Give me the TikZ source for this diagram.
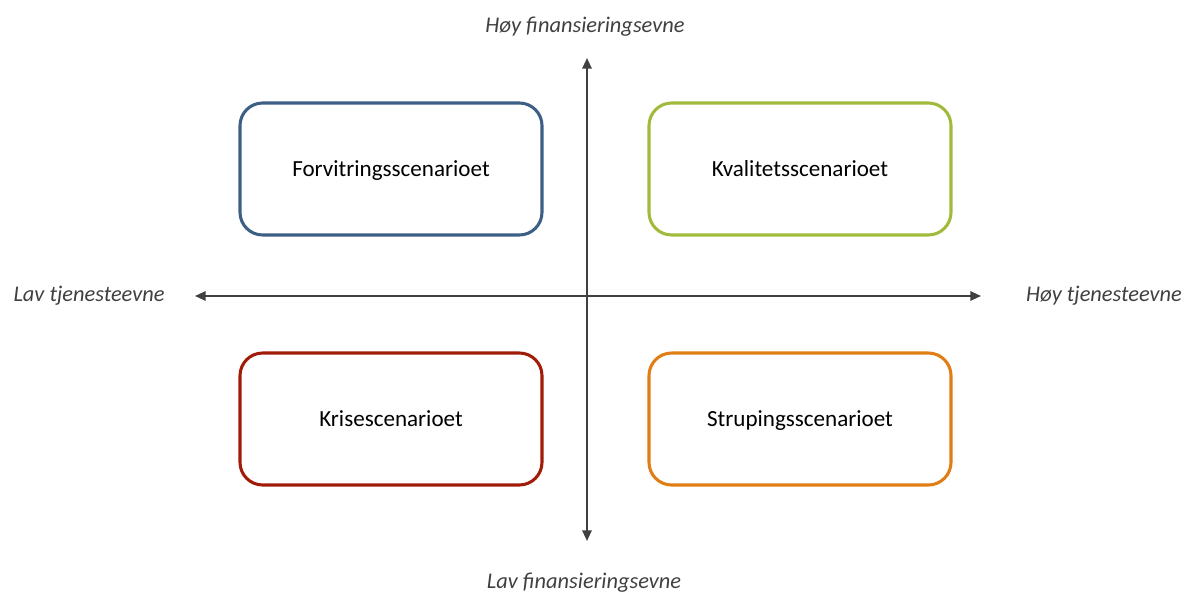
\documentclass[tikz,border=0pt]{standalone}
\usepackage{fontspec}
\setmainfont{Carlito}
\usetikzlibrary{arrows.meta}
\definecolor{axisgray}{HTML}{404040}
\definecolor{labelgray}{HTML}{404040}
\definecolor{cblue}{HTML}{3D5F86}
\definecolor{cgreen}{HTML}{A0BA3C}
\definecolor{cred}{HTML}{A01C08}
\definecolor{corange}{HTML}{E07E16}
\tikzset{
  scenario/.style={draw=#1, line width=2.3pt, rounded corners=17pt, minimum width=226.5pt, minimum height=99pt, align=center, text height=14pt, text depth=2.8pt, font=\fontsize{17.3}{20}\selectfont, text=black, fill=white},
  axislabel/.style={font=\itshape\fontsize{16.8}{20}\selectfont, text=labelgray},
  axisline/.style={draw=axisgray, line width=1.5pt, {Triangle[length=8pt,width=7pt]}-{Triangle[length=8pt,width=7pt]}}
}
\begin{document}
\begin{tikzpicture}[x=0.75pt,y=-0.75pt]
\useasboundingbox (0,0) rectangle (1185,595);
\coordinate (top) at (587,58);
\coordinate (bot) at (587,541);
\coordinate (lft) at (195,296);
\coordinate (rgt) at (981,296);
\draw[axisline] (lft) -- (rgt);
\draw[axisline] (bot) -- (top);
\node[scenario=cblue] (forv) at (391,169) {Forvitringsscenarioet};
\node[scenario=cgreen] (kval) at (800,169) {Kvalitetsscenarioet};
\node[scenario=cred] (kris) at (391,419) {Krisescenarioet};
\node[scenario=corange] (strup) at (800,419) {Strupingsscenarioet};
\node[axislabel] (hoyf) at (585,27) {Høy finansieringsevne};
\node[axislabel] (lavf) at (584,583) {Lav finansieringsevne};
\node[axislabel] (lavt) at (89,296) {Lav tjenesteevne};
\node[axislabel] (hoyt) at (1104,296) {Høy tjenesteevne};
\end{tikzpicture}
\end{document}
